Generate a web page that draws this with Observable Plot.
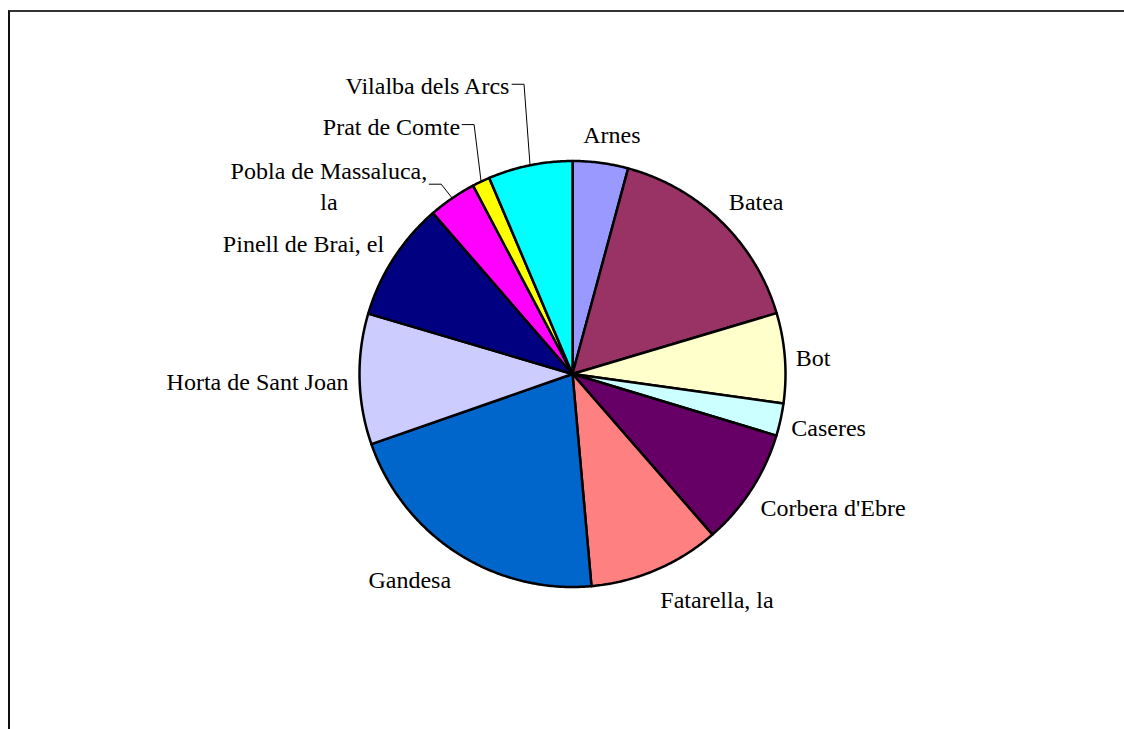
<!DOCTYPE html>
<html><head><meta charset="utf-8">
<script src="https://cdn.jsdelivr.net/npm/d3@7"></script>
<script src="https://cdn.jsdelivr.net/npm/@observablehq/plot@0.6"></script>
<style>
html,body{margin:0;padding:0;background:#fff;overflow:hidden;width:1124px;height:729px;}
#frame{position:absolute;left:8px;top:10px;width:1400px;height:900px;border-top:2px solid #333;border-left:2px solid #111;box-sizing:border-box;}
#chart{position:absolute;left:0;top:0;}
</style></head><body>
<div id="frame"></div>
<div id="chart"></div>
<script>
// ---- data ----
const municipis = ["Arnes","Batea","Bot","Caseres","Corbera d'Ebre","Fatarella, la","Gandesa","Horta de Sant Joan","Pinell de Brai, el","Pobla de Massaluca, la","Prat de Comte","Vilalba dels Arcs"];
const valors = [4.21, 16.18, 6.83, 2.46, 8.92, 9.99, 21.08, 9.92, 9.06, 3.64, 1.34, 6.39];
const colors = ["#9999FF","#993366","#FFFFCC","#CCFFFF","#660066","#FF8080","#0066CC","#CCCCFF","#000080","#FF00FF","#FFFF00","#00FFFF"];
// labels dragged out with a leader line: elbow offset [dx, dy] in px from the slice's arc midpoint
const leaderElbow = {"Pobla de Massaluca, la": [-11, -14], "Prat de Comte": [-7, -57], "Vilalba dels Arcs": [-6, -81]};

// ---- layout ----
const W = 1124, H = 729, CX = 572, CY = 373.5, RPX = 213;
const FONT = 24, FAMILY = "Liberation Serif", LH = 1.3;
const toX = px => (px - CX) / RPX, toY = py => (CY - py) / RPX;

const rows = municipis.map((name, i) => ({name, v: valors[i], color: colors[i]}));
const arcs = d3.pie().sort(null).value(d => d.v)(rows);

// slice polygons (unit circle, y up, angle clockwise from 12 o'clock)
const slicePts = [];
arcs.forEach(a => {
  const n = Math.max(2, Math.ceil((a.endAngle - a.startAngle) / (Math.PI / 360)));
  slicePts.push({x: 0, y: 0, name: a.data.name, color: a.data.color});
  for (let k = 0; k <= n; k++) {
    const t = a.startAngle + (a.endAngle - a.startAngle) * k / n;
    slicePts.push({x: Math.sin(t), y: Math.cos(t), name: a.data.name, color: a.data.color});
  }
  slicePts.push({x: 0, y: 0, name: a.data.name, color: a.data.color});
});

// text measuring
const ctx = document.createElement("canvas").getContext("2d");
ctx.font = `${FONT}px '${FAMILY}'`;
const tw = s => ctx.measureText(s).width;
function wrap(s, maxW) {
  if (tw(s) <= maxW) return [s];
  const words = s.split(" "); const lines = []; let cur = "";
  for (const w of words) {
    const t = cur ? cur + " " + w : w;
    if (tw(t) > maxW && cur) { lines.push(cur); cur = w; } else cur = t;
  }
  if (cur) lines.push(cur);
  return lines;
}

const gx = 11, gy = 18;
const clamp = v => Math.max(-1, Math.min(1, v));
const labels = [], leaders = [];
arcs.forEach(a => {
  const th = (a.startAngle + a.endAngle) / 2;
  const lines = wrap(a.data.name, 200);
  const w = d3.max(lines, tw), h = FONT * (lines.length === 1 ? 1 : LH * lines.length);
  let px, py;
  const el = leaderElbow[a.data.name];
  if (el) {
    const ax = CX + RPX * Math.sin(th), ay = CY - RPX * Math.cos(th);
    const kx = ax + el[0], ky = ay + el[1];
    leaders.push({x: toX(ax), y: toY(ay), name: a.data.name});
    leaders.push({x: toX(kx), y: toY(ky), name: a.data.name});
    leaders.push({x: toX(kx - 12), y: toY(ky), name: a.data.name});
    px = kx - 14 - w / 2; py = ky;
  } else {
    const ex = CX + (RPX + gx) * Math.sin(th), ey = CY - (RPX + gy) * Math.cos(th);
    px = ex + clamp(2.6 * Math.sin(th)) * w / 2;
    py = ey - Math.cos(th) * h / 2;
  }
  labels.push({x: toX(px), y: toY(py), text: lines.join("\n")});
});

const chart = Plot.plot({
  width: W, height: H, margin: 0,
  x: {domain: [toX(0), toX(W)], axis: null},
  y: {domain: [toY(H), toY(0)], axis: null},
  color: {type: "identity"},
  style: {background: "transparent", overflow: "visible"},
  marks: [
    Plot.line(slicePts, {x: "x", y: "y", z: "name", fill: "color", stroke: "#000", strokeWidth: 2.5, curve: "linear"}),
    Plot.line(leaders, {x: "x", y: "y", z: "name", stroke: "#000", strokeWidth: 1, curve: "linear"}),
    Plot.text(labels, {x: "x", y: "y", text: "text", textAnchor: "middle", lineAnchor: "middle",
      fontSize: FONT, fontFamily: FAMILY, fill: "#000", lineHeight: LH})
  ]
});
document.getElementById("chart").appendChild(chart);
</script>
</body></html>
